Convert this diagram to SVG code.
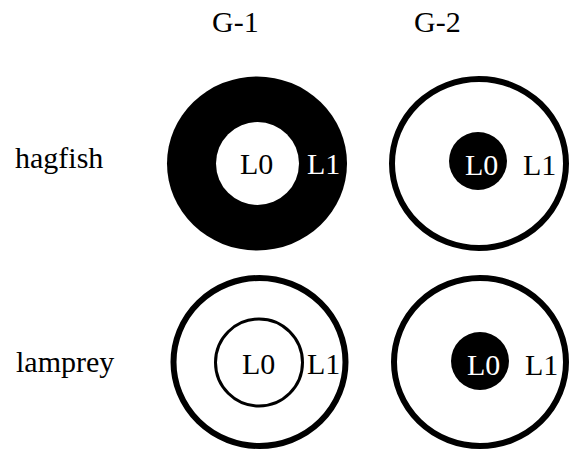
<svg xmlns="http://www.w3.org/2000/svg" width="570" height="449" viewBox="0 0 570 449">
  <style>
    text { font-family: "Liberation Serif", "Times New Roman", serif; font-size: 30px; }
    .dark { fill: #000; }
    .light { fill: #fff; }
    .ring { fill: #fff; stroke: #000; stroke-width: 6; }
    .thin { fill: none; stroke: #000; stroke-width: 3; }
  </style>
  <rect width="570" height="449" fill="#fff"/>

  <!-- column headers -->
  <g id="headers">
    <text x="212" y="32">G-1</text>
    <text x="414" y="32">G-2</text>
  </g>

  <!-- row labels -->
  <g id="rows">
    <text x="15" y="168">hagfish</text>
    <text x="16" y="372">lamprey</text>
  </g>

  <!-- hagfish, G-1: dark outer layer, light core -->
  <g id="hagfish-g1">
    <ellipse cx="257" cy="163.5" rx="90" ry="87" class="dark"/>
    <circle cx="257.5" cy="163.5" r="41.5" class="light"/>
    <text x="240" y="174" class="dark">L0</text>
    <text x="307" y="174" class="light">L1</text>
  </g>

  <!-- hagfish, G-2: light outer layer, dark core -->
  <g id="hagfish-g2">
    <ellipse cx="479" cy="163.5" rx="87" ry="84.5" class="ring"/>
    <circle cx="478" cy="161" r="29" class="dark"/>
    <text x="465" y="175" class="light">L0</text>
    <text x="523" y="175" class="dark">L1</text>
  </g>

  <!-- lamprey, G-1: both layers light -->
  <g id="lamprey-g1">
    <ellipse cx="259.5" cy="362" rx="86" ry="84" class="ring"/>
    <circle cx="259" cy="362.5" r="43.5" class="thin"/>
    <text x="242" y="374" class="dark">L0</text>
    <text x="307" y="374" class="dark">L1</text>
  </g>

  <!-- lamprey, G-2: light outer layer, dark core -->
  <g id="lamprey-g2">
    <ellipse cx="480" cy="362" rx="86" ry="84" class="ring"/>
    <circle cx="480" cy="361" r="29" class="dark"/>
    <text x="467" y="375" class="light">L0</text>
    <text x="525" y="375" class="dark">L1</text>
  </g>
</svg>
